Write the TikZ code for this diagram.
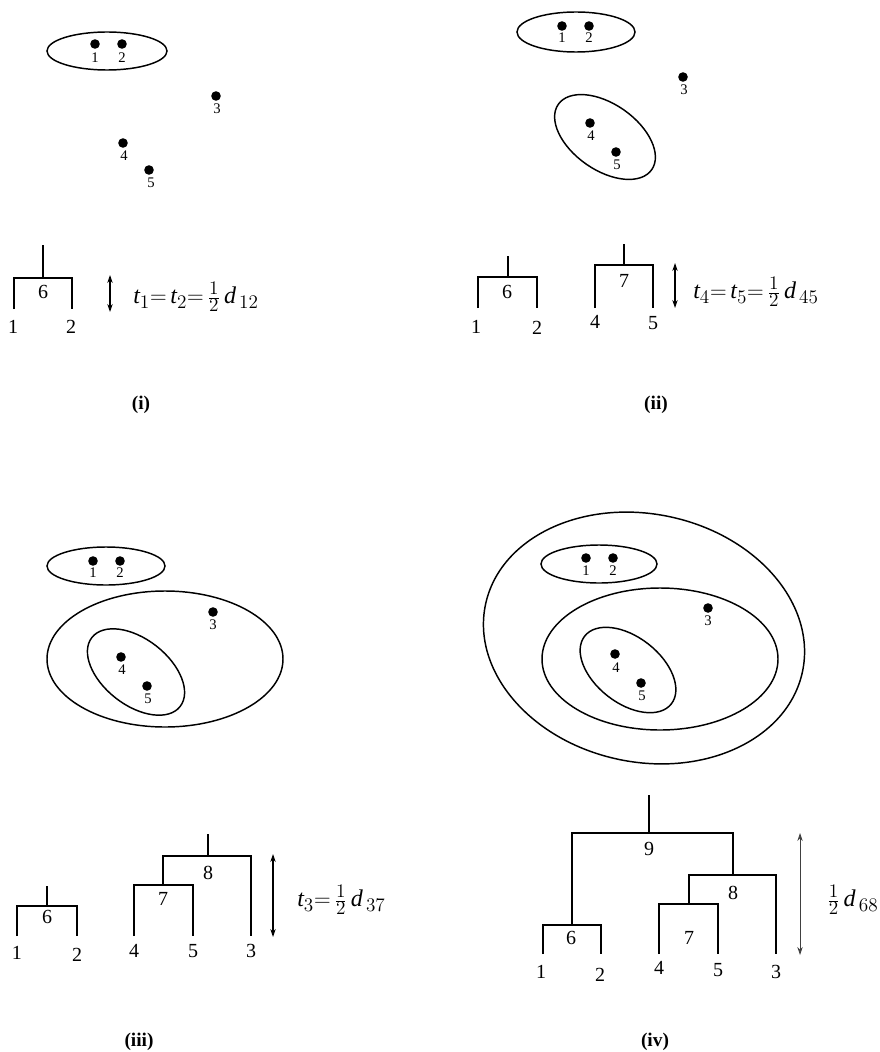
\documentclass[tikz,border=0pt]{standalone}
\usepackage{fontspec}
\setmainfont{Liberation Serif}
\DeclareMathSizes{18}{18}{14}{11}
\usetikzlibrary{arrows.meta}
\begin{document}
\begin{tikzpicture}[x=0.75pt,y=-0.75pt,
  dot/.style={circle,fill=black,inner sep=0pt,minimum size=7.2pt},
  dotlab/.style={font=\fontsize{11}{13}\selectfont,inner sep=0pt},
  leaflab/.style={font=\fontsize{15}{17}\selectfont,inner sep=0pt},
  clus/.style={line width=1.1pt},
  tree/.style={line width=1.4pt},
  dim/.style={line width=0.8pt,{Stealth[length=6pt,width=4pt]}-{Stealth[length=6pt,width=4pt]}},
  formula/.style={font=\fontsize{18}{21}\selectfont,inner sep=0pt,anchor=west},
  panel/.style={font=\fontsize{14.5}{17}\selectfont\bfseries,inner sep=0pt}]
\useasboundingbox (0,0) rectangle (879,1052);

% ================= (i) =================
\draw[clus] (107,51) ellipse [x radius=60, y radius=19];
\node[dot] (a1) at (95,44) {};  \node[dotlab] (a1l) at (95,58) {1};
\node[dot] (a2) at (122,44) {}; \node[dotlab] (a2l) at (122,58) {2};
\node[dot] (a3) at (216,96) {}; \node[dotlab] (a3l) at (217,109) {3};
\node[dot] (a4) at (123,143) {}; \node[dotlab] (a4l) at (124,156) {4};
\node[dot] (a5) at (149,170) {}; \node[dotlab] (a5l) at (151,183) {5};

\coordinate (A6) at (43,278); \coordinate (A6t) at (43,245);
\coordinate (Ab1) at (14,309); \coordinate (Ab2) at (72,309);
\draw[tree] (Ab1) |- (A6) -| (Ab2);
\draw[tree] (A6) -- (A6t);
\node[leaflab] (A6l) at (43,292) {6};
\node[leaflab] (A1l) at (13,327) {1};
\node[leaflab] (A2l) at (71,327) {2};
\coordinate (Aa1) at (110,275); \coordinate (Aa2) at (110,312);
\draw[dim] (Aa1) -- (Aa2);
\node[formula] (Af) at (133,297) {$\mathit{t}_1{=}\,\mathit{t}_2{=}\,\frac{1}{2}\,\mathit{d}_{\,12}$};
\node[panel] (Ap) at (141,405) {(i)};

% ================= (ii) =================
\draw[clus] (576,32) ellipse [x radius=59, y radius=20];
\draw[clus, rotate around={-35:(605,137)}] (605,137) ellipse [x radius=57, y radius=33];
\node[dot] (b1) at (562,26) {};  \node[dotlab] (b1l) at (562,38) {1};
\node[dot] (b2) at (589,26) {};  \node[dotlab] (b2l) at (589,38) {2};
\node[dot] (b3) at (683,77) {};  \node[dotlab] (b3l) at (684,90) {3};
\node[dot] (b4) at (590,123) {}; \node[dotlab] (b4l) at (591,136) {4};
\node[dot] (b5) at (616,152) {}; \node[dotlab] (b5l) at (617,165) {5};

\coordinate (B6) at (508,277); \coordinate (B6t) at (508,256);
\coordinate (Bb1) at (478,308); \coordinate (Bb2) at (537,308);
\draw[tree] (Bb1) |- (B6) -| (Bb2);
\draw[tree] (B6) -- (B6t);
\coordinate (B7) at (624,265); \coordinate (B7t) at (624,244);
\coordinate (Bb4) at (595,308); \coordinate (Bb5) at (653,308);
\draw[tree] (Bb4) |- (B7) -| (Bb5);
\draw[tree] (B7) -- (B7t);
\node[leaflab] (B6l) at (507,292) {6};
\node[leaflab] (B7l) at (624,281) {7};
\node[leaflab] (B1l) at (476,327) {1};
\node[leaflab] (B2l) at (537,328) {2};
\node[leaflab] (B4l) at (595,322) {4};
\node[leaflab] (B5l) at (653,323) {5};
\coordinate (Ba1) at (675,263); \coordinate (Ba2) at (675,308);
\draw[dim] (Ba1) -- (Ba2);
\node[formula] (Bf) at (693,292) {$\mathit{t}_4{=}\,\mathit{t}_5{=}\,\frac{1}{2}\,\mathit{d}_{\,45}$};
\node[panel] (Bp) at (656,405) {(ii)};

% ================= (iii) =================
\draw[clus] (106,566) ellipse [x radius=59, y radius=19];
\draw[clus] (165,659) ellipse [x radius=118, y radius=68];
\draw[clus, rotate around={-38:(136,672)}] (136,672) ellipse [x radius=56, y radius=33];
\node[dot] (c1) at (93,561) {};  \node[dotlab] (c1l) at (93,573) {1};
\node[dot] (c2) at (120,561) {}; \node[dotlab] (c2l) at (120,573) {2};
\node[dot] (c3) at (213,612) {}; \node[dotlab] (c3l) at (213,625) {3};
\node[dot] (c4) at (121,657) {}; \node[dotlab] (c4l) at (122,670) {4};
\node[dot] (c5) at (147,686) {}; \node[dotlab] (c5l) at (148,699) {5};

\coordinate (C6) at (47,906); \coordinate (C6t) at (47,886);
\coordinate (Cb1) at (17,936); \coordinate (Cb2) at (77,936);
\draw[tree] (Cb1) |- (C6) -| (Cb2);
\draw[tree] (C6) -- (C6t);
\coordinate (C7) at (163,885);
\coordinate (Cb4) at (134,936); \coordinate (Cb5) at (193,936);
\draw[tree] (Cb4) |- (C7) -| (Cb5);
\coordinate (C8) at (208,856); \coordinate (C8t) at (208,834);
\coordinate (Cb3) at (251,936);
\draw[tree] (C7) |- (C8) -| (Cb3);
\draw[tree] (C8) -- (C8t);
\node[leaflab] (C6l) at (47,917) {6};
\node[leaflab] (C7l) at (163,899) {7};
\node[leaflab] (C8l) at (208,873) {8};
\node[leaflab] (C1l) at (17,953) {1};
\node[leaflab] (C2l) at (77,955) {2};
\node[leaflab] (C4l) at (134,951) {4};
\node[leaflab] (C5l) at (193,951) {5};
\node[leaflab] (C3l) at (251,951) {3};
\coordinate (Ca1) at (273,854); \coordinate (Ca2) at (273,937);
\draw[dim] (Ca1) -- (Ca2);
\node[formula] (Cf) at (297,900) {$\mathit{t}_3{=}\,\frac{1}{2}\,\mathit{d}_{\,37}$};
\node[panel] (Cp) at (139,1042) {(iii)};

% ================= (iv) =================
\draw[clus, rotate around={-12:(644,638)}] (644,638) ellipse [x radius=162, y radius=124];
\draw[clus] (599,564) ellipse [x radius=58, y radius=19];
\draw[clus] (660,659) ellipse [x radius=118, y radius=71];
\draw[clus, rotate around={-38:(628,670)}] (628,670) ellipse [x radius=55, y radius=33];
\node[dot] (d1) at (586,558) {}; \node[dotlab] (d1l) at (586,571) {1};
\node[dot] (d2) at (613,558) {}; \node[dotlab] (d2l) at (613,571) {2};
\node[dot] (d3) at (708,608) {}; \node[dotlab] (d3l) at (708,621) {3};
\node[dot] (d4) at (615,654) {}; \node[dotlab] (d4l) at (616,668) {4};
\node[dot] (d5) at (641,683) {}; \node[dotlab] (d5l) at (642,696) {5};

\coordinate (D9) at (649,833); \coordinate (D9t) at (649,795);
\coordinate (D6) at (572,925); \coordinate (D8) at (733,875); \coordinate (D7) at (689,904);
\coordinate (Db1) at (543,954); \coordinate (Db2) at (601,954);
\coordinate (Db4) at (659,954); \coordinate (Db5) at (718,954);
\coordinate (Db3) at (776,954);
\draw[tree] (D6) |- (D9) -| (D8);
\draw[tree] (D9) -- (D9t);
\draw[tree] (Db1) |- (D6) -| (Db2);
\draw[tree] (D7) |- (D8) -| (Db3);
\draw[tree] (Db4) |- (D7) -| (Db5);
\node[leaflab] (D9l) at (649,849) {9};
\node[leaflab] (D8l) at (733,893) {8};
\node[leaflab] (D6l) at (571,938) {6};
\node[leaflab] (D7l) at (689,938) {7};
\node[leaflab] (D1l) at (541,972) {1};
\node[leaflab] (D2l) at (600,975) {2};
\node[leaflab] (D4l) at (659,968) {4};
\node[leaflab] (D5l) at (718,970) {5};
\node[leaflab] (D3l) at (776,972) {3};
\coordinate (Da1) at (800,833); \coordinate (Da2) at (800,955);
\draw[dim, line width=0.6pt, black!75] (Da1) -- (Da2);
\node[formula] (Df) at (827,900) {$\frac{1}{2}\,\mathit{d}_{\,68}$};
\node[panel] (Dp) at (655,1042) {(iv)};
\end{tikzpicture}
\end{document}
